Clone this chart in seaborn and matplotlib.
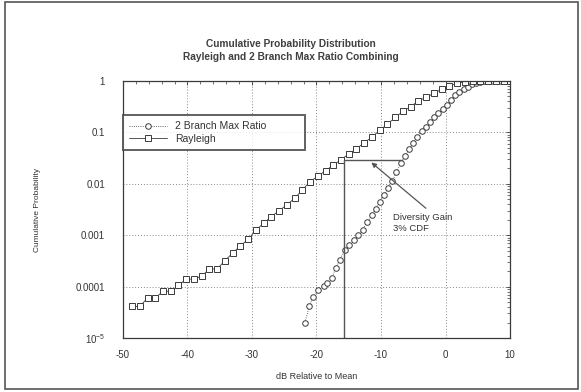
import numpy as np
import pandas as pd
import seaborn as sns
import matplotlib
matplotlib.use("Agg")
import matplotlib.pyplot as plt
from matplotlib.ticker import FixedLocator, MultipleLocator, LogLocator, NullFormatter
from matplotlib.patches import Rectangle

# Rayleigh (single branch) measured CDF
rayleigh_db = [-48.6, -47.4, -46.2, -45.0, -43.8, -42.6, -41.4, -40.2, -39.0, -37.8,
               -36.6, -35.4, -34.2, -33.0, -31.8, -30.6, -29.4, -28.2, -27.0, -25.8,
               -24.6, -23.4, -22.2, -21.0, -19.8, -18.6, -17.4, -16.2, -15.0, -13.8,
               -12.6, -11.4, -10.2, -9.0, -7.8, -6.6, -5.4, -4.2, -3.0, -1.8,
               -0.6, 0.6, 1.8, 3.0, 4.2, 5.4, 6.6, 7.8, 9.0, 10.0]
rayleigh_cdf = [4.1e-5, 4.1e-5, 6.0e-5, 6.0e-5, 8.1e-5, 8.1e-5, 1.05e-4, 1.4e-4, 1.4e-4, 1.6e-4,
                2.2e-4, 2.2e-4, 3.2e-4, 4.5e-4, 6.2e-4, 8.3e-4, 1.26e-3, 1.7e-3, 2.3e-3, 3.0e-3,
                3.9e-3, 5.2e-3, 7.6e-3, 0.011, 0.014, 0.018, 0.023, 0.0295, 0.038, 0.048,
                0.063, 0.081, 0.11, 0.145, 0.195, 0.257, 0.316, 0.41, 0.48, 0.575,
                0.69, 0.79, 0.91, 0.97, 0.99, 0.998, 1.0, 1.0, 1.0, 1.0]

# 2 branch maximal ratio combining measured CDF
mrc_db = [-21.8, -21.1, -20.5, -19.7, -18.9, -18.3, -17.65, -17.0, -16.4, -15.6,
          -14.9, -14.2, -13.5, -12.85, -12.1, -11.45, -10.8, -10.2, -9.55, -8.9,
          -8.25, -7.6, -6.95, -6.3, -5.65, -5.0, -4.35, -3.7, -3.05, -2.4,
          -1.75, -1.1, -0.45, 0.2, 0.85, 1.5, 2.15, 2.8, 3.45, 4.1,
          4.75, 5.4, 6.05, 6.7, 7.35, 8.0, 8.65, 9.3, 10.0]
mrc_cdf = [2.0e-5, 4.2e-5, 6.2e-5, 8.5e-5, 1.02e-4, 1.15e-4, 1.45e-4, 2.3e-4, 3.3e-4, 5.1e-4,
           6.3e-4, 8.1e-4, 1.0e-3, 1.29e-3, 1.8e-3, 2.45e-3, 3.3e-3, 4.5e-3, 6.0e-3, 8.1e-3,
           0.0112, 0.017, 0.025, 0.034, 0.047, 0.063, 0.083, 0.105, 0.129, 0.158,
           0.195, 0.234, 0.288, 0.347, 0.427, 0.525, 0.617, 0.684, 0.776, 0.881,
           0.933, 0.964, 0.98, 0.991, 0.995, 0.998, 1.0, 1.0, 1.0]

x_ticks = [-50, -40, -30, -20, -10, 0, 10]
x_tick_labels = ["-50", "-40", "-30", "-20", "-10", "0", "10"]
y_ticks = [1e-5, 1e-4, 1e-3, 1e-2, 1e-1, 1]
y_tick_labels = [r"$10^{-5}$", "0.0001", "0.001", "0.01", "0.1", "1"]

# Diversity gain markers at the 3% CDF level
gain_level = 0.029
gain_rayleigh_db = -15.7
gain_mrc_db = -6.7

sns.set_theme(style="white")
plt.rcParams["font.family"] = ["Liberation Sans", "DejaVu Sans"]
plt.rcParams["axes.unicode_minus"] = False
plt.rcParams["mathtext.fontset"] = "custom"
plt.rcParams["mathtext.rm"] = "Liberation Sans"
plt.rcParams["mathtext.it"] = "Liberation Sans"

ink = "#3a3a3a"
fig = plt.figure(figsize=(5.81, 3.92), dpi=100)
fig.patch.set_facecolor("white")
ax = fig.add_axes([0.2117, 0.1378, 0.6661, 0.6556])

df_mrc = pd.DataFrame({"db": mrc_db, "cdf": mrc_cdf})
df_ray = pd.DataFrame({"db": rayleigh_db, "cdf": rayleigh_cdf})

sns.lineplot(data=df_mrc, x="db", y="cdf", ax=ax, color=ink, lw=0.6, ls=":",
             marker="o", markersize=4.0, markerfacecolor="white",
             markeredgecolor=ink, markeredgewidth=0.7, label="2 Branch Max Ratio")
sns.lineplot(data=df_ray, x="db", y="cdf", ax=ax, color=ink, lw=0.6, ls="-",
             marker="s", markersize=5.0, markerfacecolor="white",
             markeredgecolor=ink, markeredgewidth=0.7, label="Rayleigh")

ax.set_yscale("log")
ax.set_xlim(-50, 10)
ax.set_ylim(1e-5, 1)

ax.xaxis.set_major_locator(FixedLocator(x_ticks))
ax.set_xticklabels(x_tick_labels)
ax.xaxis.set_minor_locator(MultipleLocator(2))
ax.yaxis.set_major_locator(FixedLocator(y_ticks))
ax.set_yticklabels(y_tick_labels)
ax.yaxis.set_minor_locator(LogLocator(base=10, subs=np.arange(2, 10), numticks=20))
ax.yaxis.set_minor_formatter(NullFormatter())

ax.tick_params(which="both", direction="in", top=True, right=True, colors=ink,
               labelsize=7, labelcolor="#333333")
ax.tick_params(which="major", length=3, width=0.6)
ax.tick_params(which="minor", length=2, width=0.5)
ax.tick_params(axis="x", which="major", pad=9)
ax.tick_params(axis="y", which="major", pad=13)
ax.grid(True, which="major", ls=(0, (1, 2)), lw=0.7, color="#888888")

for s in ax.spines.values():
    s.set_color(ink)
    s.set_linewidth(0.9)

ax.set_xlabel("dB Relative to Mean", fontsize=6.5, color="#333333", labelpad=8)
ax.set_ylabel("Cumulative Probability", fontsize=6, color="#333333", labelpad=25)

# Diversity gain construction lines
ax.plot([gain_rayleigh_db, gain_rayleigh_db], [1e-5, gain_level], color="#555555", lw=1.0)
ax.plot([gain_rayleigh_db, gain_mrc_db], [gain_level, gain_level], color="#555555", lw=1.0)
ax.annotate("Diversity Gain\n3% CDF", xy=(-11.5, 0.026), xytext=(-8.1, 0.0017),
            fontsize=6.8, color="#333333", ha="left", va="center", linespacing=1.3,
            arrowprops=dict(arrowstyle="-|>", color="#555555", lw=0.9,
                            shrinkA=0, shrinkB=0, mutation_scale=7,
                            relpos=(0.55, 1.25)))

leg = ax.legend(loc="upper left", bbox_to_anchor=(0.0, 0.729, 0.47, 0.139),
                mode="expand", fontsize=7.5, frameon=True, fancybox=False,
                borderpad=0.6, handlelength=3.6, labelspacing=0.25, borderaxespad=0)
leg.get_frame().set_edgecolor(ink)
leg.get_frame().set_linewidth(1.4)
for t in leg.get_texts():
    t.set_color("#333333")

fig.text(0.5, 0.872, "Cumulative Probability Distribution\nRayleigh and 2 Branch Max Ratio Combining",
         ha="center", va="center", fontsize=7.3, fontweight="bold", color="#404040",
         linespacing=1.35)

fig.patches.append(Rectangle((0.008, 0.008), 0.986, 0.986, transform=fig.transFigure,
                             fill=False, edgecolor="#555555", lw=1.2))

fig.savefig("out.png", dpi=100)
